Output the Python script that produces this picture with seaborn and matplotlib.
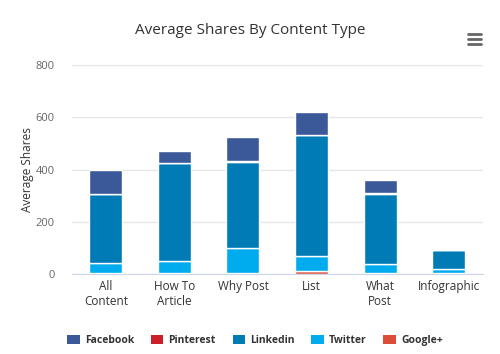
import numpy as np
import pandas as pd
import matplotlib
matplotlib.use('Agg')
import matplotlib.pyplot as plt
from matplotlib.patches import Patch
from matplotlib.lines import Line2D
import seaborn as sns

categories = ['All\nContent', 'How To\nArticle', 'Why Post', 'List', 'What\nPost', 'Infographic']
facebook = [93, 47, 95, 88, 51, 0]
pinterest = [1, 1, 1, 1, 1, 0]
linkedin = [264, 374, 332, 462, 271, 74]
twitter = [36, 45, 93, 59, 35, 16]
google_plus = [5, 5, 5, 10, 2, 2]

series_names = ['Facebook', 'Pinterest', 'Linkedin', 'Twitter', 'Google+']
series_vals = [facebook, pinterest, linkedin, twitter, google_plus]
series_colors = ['#3b5998', '#cb2027', '#007bb6', '#00aced', '#dd4b39']

df = pd.DataFrame({'category': categories})
for name, vals in zip(series_names, series_vals):
    df[name] = vals

sns.set_style('white')
plt.rcParams['font.family'] = ['Open Sans', 'DejaVu Sans']

fig = plt.figure(figsize=(5, 3.54), dpi=100)
ax = fig.add_axes([0.143, 0.226, 0.823, 0.590])

# stack from the bottom: Google+, Twitter, Linkedin, Pinterest, Facebook
bottom = np.zeros(len(categories))
for name, color in list(zip(series_names, series_colors))[::-1]:
    sns.barplot(data=df, x='category', y=name, color=color, width=0.48,
                bottom=bottom, edgecolor='white', linewidth=1, ax=ax,
                saturation=1)
    bottom = bottom + df[name].values

ax.set_ylim(0, 800)
ax.set_xlim(-0.5, len(categories) - 0.5)
ax.set_yticks([0, 200, 400, 600, 800])
ax.yaxis.grid(True, color='#e6e6e6', linewidth=1)
ax.set_axisbelow(True)
for s in ['top', 'right', 'left']:
    ax.spines[s].set_visible(False)
ax.spines['bottom'].set_color('#ccd6eb')
ax.tick_params(axis='y', length=0, labelsize=8, labelcolor='#666666', pad=12)
ax.set_xticks(range(len(categories)))
ax.set_xticklabels(categories, fontsize=8.5, color='#333333')
ax.tick_params(axis='x', length=0, pad=4)
# category boundary ticks
ax.set_xticks(np.arange(-0.5, len(categories)), minor=True)
ax.tick_params(axis='x', which='minor', length=8, color='#ccd6eb', width=1)
ax.set_xlabel('')
ax.set_ylabel('Average Shares', fontsize=8.5, color='#333333', labelpad=1)

fig.text(0.5, 0.915, 'Average Shares By Content Type', ha='center', va='center',
         fontsize=11, color='#333333')

# menu icon
for yy in [0.875, 0.889, 0.903]:
    fig.add_artist(Line2D([0.936, 0.962], [yy, yy], color='#666666',
                          linewidth=2, transform=fig.transFigure))

handles = [Patch(facecolor=c, edgecolor='none', label=n)
           for n, c in zip(series_names, series_colors)]
leg = fig.legend(handles=handles, loc='center', bbox_to_anchor=(0.51, 0.038),
                 ncol=5, frameon=False, fontsize=7.5, handlelength=1.2,
                 handleheight=1.0, columnspacing=1.6, handletextpad=0.5)
for t in leg.get_texts():
    t.set_fontweight('bold')
    t.set_color('#333333')

plt.savefig('out.png', dpi=100)
